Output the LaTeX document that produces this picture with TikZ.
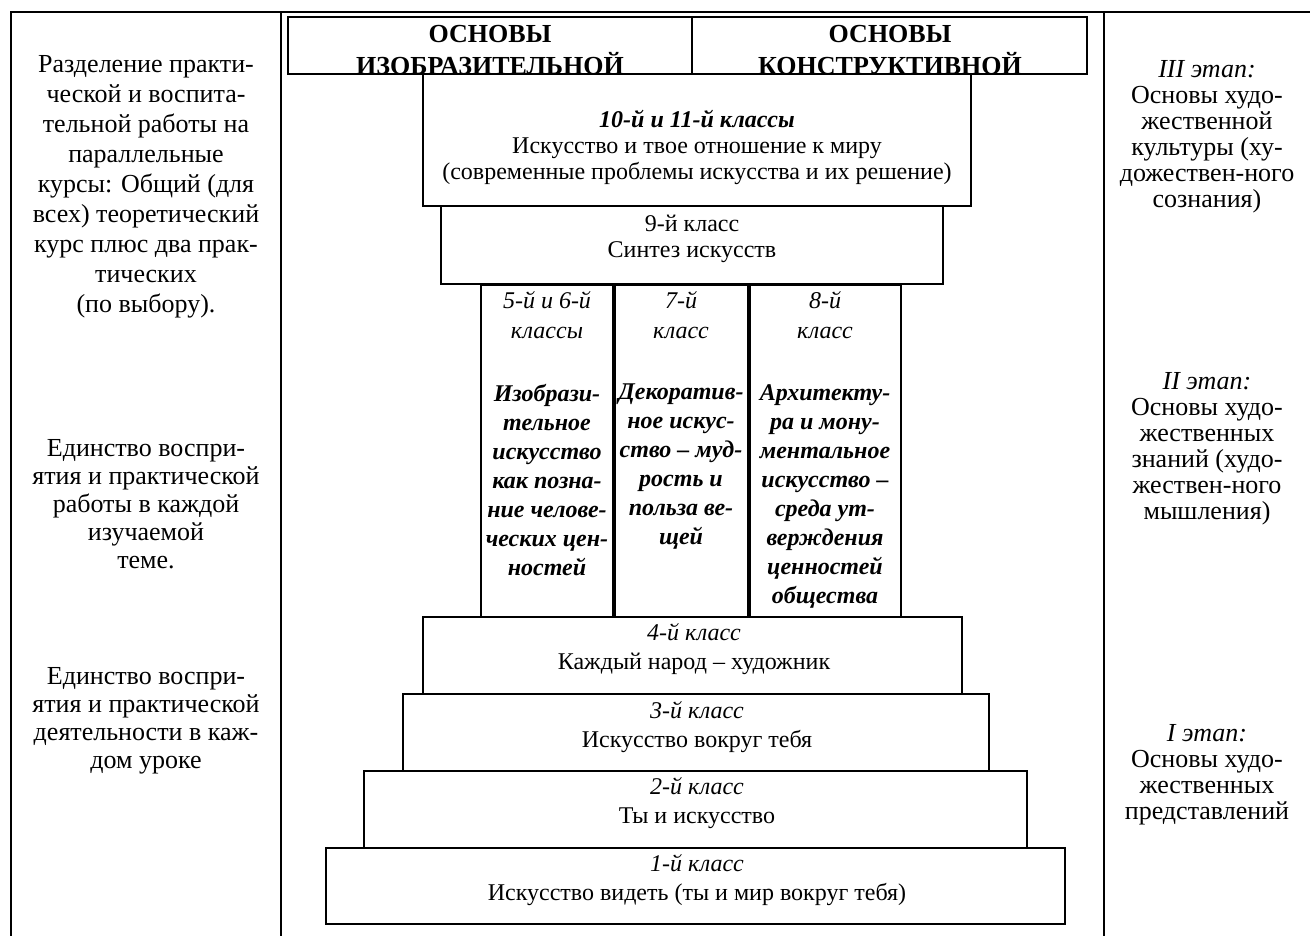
\documentclass[tikz,border=0pt]{standalone}
\usepackage{fontspec}
\setmainfont{Liberation Serif}
\begin{document}
\begin{tikzpicture}[x=1pt,y=-1pt,
  frame/.style={line width=2.4pt},
  txt/.style={inner sep=0pt, anchor=north, align=center, font=\fontsize{24}{29}\selectfont},
  side/.style={txt, font=\fontsize{26}{28}\selectfont},
  rside/.style={txt, font=\fontsize{26}{26}\selectfont},
  colt/.style={txt, font=\fontsize{24}{29}\selectfont},
  hdr/.style={txt, font=\bfseries\fontsize{26}{32}\selectfont}
]
\newcommand\blkbox[5]{\node[draw, line width=1.4pt, inner sep=0pt, minimum width={#4-#2}, minimum height={#5-#3}] (#1) at ({(#2+#4)/2},{(#3+#5)/2}) {};}
\useasboundingbox (0,0) rectangle (1310,936);
\fill[white] (0,0) rectangle (1310,936);
% outer frame
\coordinate (tl) at (11,12);
\coordinate (bl) at (11,936);
\coordinate (tr) at (1310,12);
\coordinate (d1t) at (281,12);
\coordinate (d1b) at (281,936);
\coordinate (d2t) at (1104,12);
\coordinate (d2b) at (1104,936);
\draw[frame] (bl) -- (tl) -- (tr);
\draw[frame] (d1t) -- (d1b);
\draw[frame] (d2t) -- (d2b);

% left column
\node[side, font=\fontsize{26}{30}\selectfont] (l1) at (146,55) {Разделение практи-\\ческой и воспита-\\тельной работы на\\параллельные\\курсы: Общий (для\\всех) теоретический\\курс плюс два прак-\\тических\\(по выбору).};
\node[side] (l2) at (146,439) {Единство воспри-\\ятия и практической\\работы в каждой\\изучаемой\\теме.};
\node[side] (l3) at (146,667) {Единство воспри-\\ятия и практической\\деятельности в каж-\\дом уроке};

% right column
\node[rside] (r1) at (1207,60) {\textit{III этап:}\\Основы худо-\\жественной\\культуры (ху-\\дожествен-ного\\сознания)};
\node[rside] (r2) at (1207,372) {\textit{II этап:}\\Основы худо-\\жественных\\знаний (худо-\\жествен-ного\\мышления)};
\node[rside] (r3) at (1207,724) {\textit{I этап:}\\Основы худо-\\жественных\\представлений};

% 10-11
\blkbox{b1011}{423}{74}{971}{206}
\node[txt, font=\fontsize{24}{26}\selectfont] (t1011) at (697,110) {\textbf{\textit{10-й и 11-й классы}}\\Искусство и твое отношение к миру\\(современные проблемы искусства и их решение)};
% 9
\blkbox{b9}{441}{206}{943}{284}
\node[txt, font=\fontsize{24}{26}\selectfont] (t9) at (692,215) {9-й класс\\Синтез искусств};
% columns
\blkbox{c1}{481}{285}{613}{617}
\blkbox{c2}{615}{285}{748}{617}
\blkbox{c3}{750}{285}{901}{617}
\node[txt, font=\fontsize{24}{30}\selectfont] (c1h) at (547,291) {\textit{5-й и 6-й}\\\textit{классы}};
\node[txt, font=\fontsize{24}{30}\selectfont] (c2h) at (681,291) {\textit{7-й}\\\textit{класс}};
\node[txt, font=\fontsize{24}{30}\selectfont] (c3h) at (825,291) {\textit{8-й}\\\textit{класс}};
\node[colt] (c1t) at (547,384) {\bfseries\itshape Изобрази-\\\bfseries\itshape тельное\\\bfseries\itshape искусство\\\bfseries\itshape как позна-\\\bfseries\itshape ние челове-\\\bfseries\itshape ческих цен-\\\bfseries\itshape ностей};
\node[colt] (c2t) at (681,384) {\bfseries\itshape Декоратив-\\\bfseries\itshape ное искус-\\\bfseries\itshape ство – муд-\\\bfseries\itshape рость и\\\bfseries\itshape польза ве-\\\bfseries\itshape щей};
\node[colt] (c3t) at (825,384) {\bfseries\itshape Архитекту-\\\bfseries\itshape ра и мону-\\\bfseries\itshape ментальное\\\bfseries\itshape искусство –\\\bfseries\itshape среда ут-\\\bfseries\itshape верждения\\\bfseries\itshape ценностей\\\bfseries\itshape общества};
% bottom steps
\blkbox{b4}{423}{617}{962}{694}
\blkbox{b3}{403}{694}{989}{771}
\blkbox{b2}{364}{771}{1027}{848}
\blkbox{b1}{326}{848}{1065}{924}
\node[txt] (t4) at (694,623) {\textit{4-й класс}\\Каждый народ – художник};
\node[txt] (t3) at (697,701) {\textit{3-й класс}\\Искусство вокруг тебя};
\node[txt] (t2) at (697,777) {\textit{2-й класс}\\Ты и искусство};
\node[txt] (t1) at (697,854) {\textit{1-й класс}\\Искусство видеть (ты и мир вокруг тебя)};

% header
\begin{scope}
\clip (288,17) rectangle (1087,74);
\node[hdr] (h1) at (490,25) {ОСНОВЫ\\ИЗОБРАЗИТЕЛЬНОЙ};
\node[hdr] (h2) at (890,25) {ОСНОВЫ\\КОНСТРУКТИВНОЙ};
\end{scope}
\blkbox{hb1}{288}{17}{692}{74}
\blkbox{hb2}{692}{17}{1087}{74}
\end{tikzpicture}
\end{document}
